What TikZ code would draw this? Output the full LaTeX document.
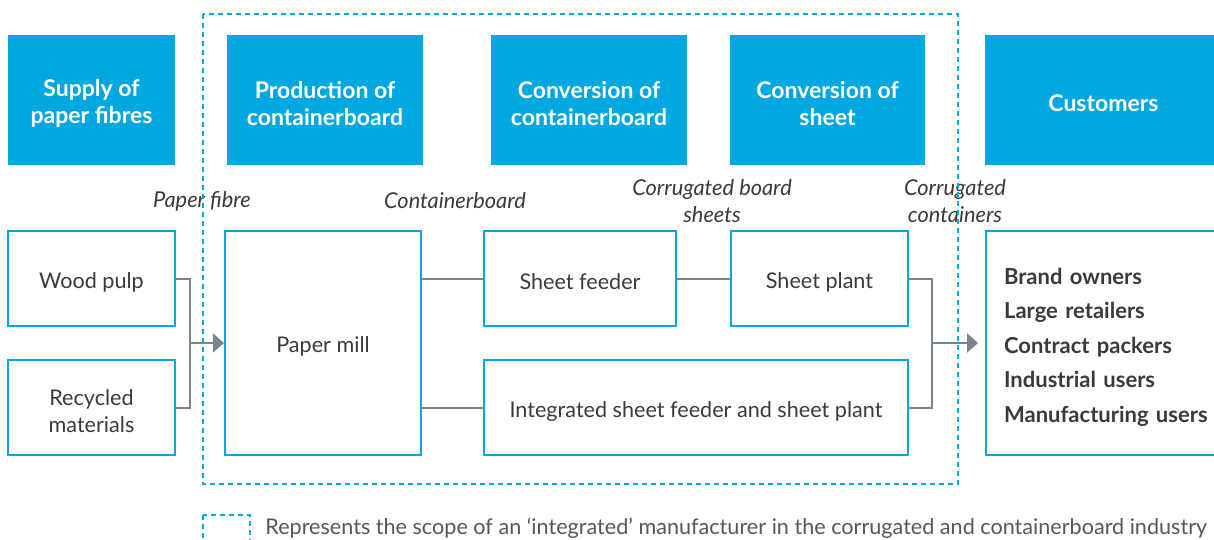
\documentclass[tikz,border=0pt]{standalone}
\usepackage{fontspec}
\setmainfont{Lato}
\usetikzlibrary{arrows.meta}
\definecolor{chainblue}{HTML}{00A7E1}
\definecolor{linkgrey}{HTML}{7B838C}
\definecolor{textgrey}{HTML}{3A3A3A}
\newcommand{\stagestrut}{\rule{0pt}{12pt}}
\newcommand{\unitstrut}{\rule{0pt}{11.5pt}}
\begin{document}
\begin{tikzpicture}[x=0.5pt,y=-0.5pt,
        stagebox/.style={fill=chainblue,text=white,inner sep=0pt,align=center,
                minimum height=65pt,font=\fontsize{11.5}{13.5}\selectfont\bfseries},
        unitbox/.style={draw=chainblue,line width=1.1pt,text=textgrey,inner sep=0pt,align=center,
                font=\fontsize{10.8}{13.5}\selectfont},
        flowlabel/.style={text=textgrey,align=center,inner sep=0pt,
                font=\fontsize{10.9}{13.5}\selectfont\itshape},
        link/.style={draw=linkgrey,line width=1pt},
        linkarrow/.style={link,-{Triangle[length=5.5pt,width=9.5pt]}},
        scopeline/.style={draw=chainblue,line width=1.2pt,dash pattern=on 2.5pt off 2pt}]

        \useasboundingbox (0,0) rectangle (1214,540);

        \node[stagebox,minimum width=83.5pt] (supply) at (91.5,100) {\stagestrut Supply of\\paper fibres};
        \node[stagebox,minimum width=98pt] (production) at (325,100) {\stagestrut Production of\\containerboard};
        \node[stagebox,minimum width=98pt] (conversion) at (589,100) {\stagestrut Conversion of\\containerboard};
        \node[stagebox,minimum width=97.5pt] (sheetconv) at (827.5,100) {\stagestrut Conversion of\\sheet};
        \node[stagebox,minimum width=118pt,anchor=west] (customers) at (985,100) {\unitstrut Customers};

        \node[flowlabel] (fibre) at (202,201) {Paper fibre};
        \node[flowlabel] (board) at (455,201) {Containerboard};
        \node[flowlabel] (sheets) at (712,201) {Corrugated board\\sheets};
        \node[flowlabel] (containers) at (955,201) {Corrugated\\containers};

        \node[unitbox,minimum width=83.5pt,minimum height=47.5pt] (pulp) at (91.5,278.5) {\unitstrut Wood pulp};
        \node[unitbox,minimum width=83.5pt,minimum height=47.5pt] (recycled) at (91.5,407.5) {\unitstrut Recycled\\materials};
        \node[unitbox,minimum width=98pt,minimum height=112pt] (mill) at (323,343) {\unitstrut Paper mill};
        \node[unitbox,minimum width=96pt,minimum height=47.5pt] (feeder) at (580,278.5) {\unitstrut Sheet feeder};
        \node[unitbox,minimum width=88.5pt,minimum height=47.5pt] (plant) at (819.5,278.5) {\unitstrut Sheet plant};
        \node[unitbox,minimum width=212pt,minimum height=47.5pt] (integrated) at (696,407.5) {\unitstrut Integrated sheet feeder and sheet plant};
        \node[unitbox,anchor=west,minimum height=112pt,text width=112pt,inner xsep=9pt,align=left,
                font=\fontsize{11}{17.25}\selectfont\bfseries] (users) at (985,343)
                {\rule{0pt}{12pt}Brand owners\\Large retailers\\Contract packers\\Industrial users\\Manufacturing users};

        \coordinate (fibrejoin) at (190,343);
        \coordinate (boxjoin) at (932,343);

        \draw[link] (pulp.east) -| (fibrejoin) |- (recycled.east);
        \draw[linkarrow] (fibrejoin) -- (mill.west);
        \draw[link] (mill.east |- feeder.west) -- (feeder.west);
        \draw[link] (mill.east |- integrated.west) -- (integrated.west);
        \draw[link] (feeder.east) -- (plant.west);
        \draw[link] (plant.east) -| (boxjoin) |- (integrated.east);
        \draw[linkarrow,shorten >=3.5pt] (boxjoin) -- (users.west |- boxjoin);

        \draw[scopeline] (203,14) rectangle (958,484);

        \begin{scope}
        \clip (0,0) rectangle (1214,540);
                \draw[scopeline] (203,515) rectangle (250,560);
        \end{scope}
        \node[anchor=west,inner sep=0pt,text=textgrey!85,font=\fontsize{10.8}{12}\selectfont] (legend) at (265,528)
                {Represents the scope of an ‘integrated’ manufacturer in the corrugated and containerboard industry};
\end{tikzpicture}
\end{document}
